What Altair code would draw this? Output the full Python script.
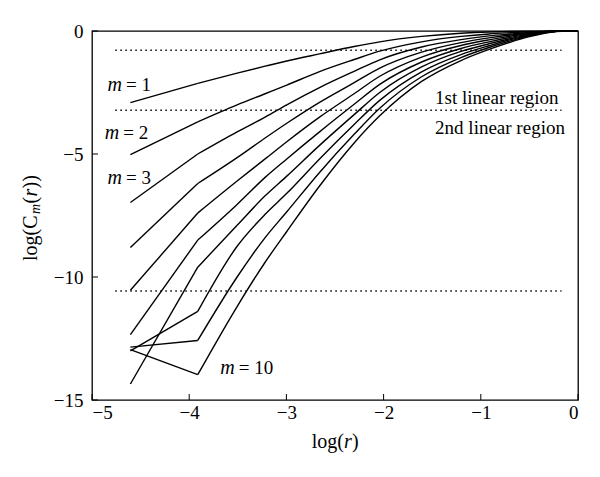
import altair as alt
import pandas as pd

# log(r) sample positions (r = 0.01 ... 1.0)
log_r = [-4.605, -3.912, -3.507, -3.219, -2.996, -2.659, -2.303, -2.040, -1.609,
         -1.204, -0.916, -0.693, -0.511, -0.357, -0.223, -0.105, 0.0]

m1 = [-2.91, -2.13, -1.71, -1.43, -1.22, -0.93, -0.63, -0.44, -0.22, -0.09, -0.04, -0.02, -0.01, -0.004, 0.0, 0.0, 0.0]
m2 = [-5.03, -3.69, -3.00, -2.55, -2.20, -1.65, -1.16, -0.82, -0.44, -0.22, -0.12, -0.07, -0.035, -0.015, -0.002, 0.0, 0.0]
m3 = [-6.97, -5.00, -4.10, -3.50, -3.00, -2.30, -1.64, -1.17, -0.65, -0.35, -0.20, -0.12, -0.06, -0.025, -0.004, 0.0, 0.0]
m4 = [-8.80, -6.20, -5.15, -4.35, -3.75, -2.90, -2.10, -1.51, -0.86, -0.47, -0.28, -0.16, -0.085, -0.035, -0.006, 0.0, 0.0]
m5 = [-10.54, -7.40, -6.10, -5.20, -4.50, -3.50, -2.55, -1.84, -1.06, -0.59, -0.36, -0.21, -0.11, -0.045, -0.008, 0.0, 0.0]
m6 = [-12.34, -8.50, -7.05, -5.95, -5.20, -4.10, -2.98, -2.17, -1.26, -0.71, -0.44, -0.26, -0.135, -0.055, -0.010, 0.0, 0.0]
m7 = [-14.35, -9.60, -7.90, -6.70, -5.90, -4.65, -3.40, -2.50, -1.46, -0.83, -0.52, -0.31, -0.16, -0.065, -0.012, 0.0, 0.0]
m8 = [-13.00, -11.40, -8.75, -7.45, -6.60, -5.20, -3.80, -2.82, -1.66, -0.96, -0.60, -0.35, -0.185, -0.075, -0.014, 0.0, 0.0]
m9 = [-12.85, -12.58, -10.00, -8.40, -7.35, -5.75, -4.20, -3.14, -1.86, -1.08, -0.67, -0.40, -0.21, -0.088, -0.017, 0.0, 0.0]
m10 = [-12.95, -13.97, -11.20, -9.40, -8.15, -6.30, -4.55, -3.45, -2.05, -1.20, -0.75, -0.45, -0.24, -0.10, -0.020, 0.0, 0.0]

series = [m1, m2, m3, m4, m5, m6, m7, m8, m9, m10]

# dotted reference levels
dot_levels = [-0.78, -3.22, -10.57]
dot_start = -4.76
dot_end = -0.17

# axis ticks
x_ticks = [-5, -4, -3, -2, -1, 0]
y_ticks = [0, -5, -10, -15]

# curve labels
lab_x = [-4.67, -4.70, -4.67, -3.51]
lab_y = [-2.2, -4.15, -5.98, -13.7]
lab_rest = ["= 1", "= 2", "= 3", "= 10"]

region_text = ["1st linear region", "2nd linear region"]
region_x = [-1.47, -1.47]
region_y = [-2.72, -3.94]

FONT = "Liberation Serif"
FS = 19
TFS = 19
TIT = 20

rows_a, rows_b = [], []
for i, s in enumerate(series):
    for k, (u, v) in enumerate(zip(log_r, s)):
        if k <= 1:
            rows_a.append({"u": u, "v": v, "m": i + 1})
        if k >= 1:
            rows_b.append({"u": u, "v": v, "m": i + 1})
df_a = pd.DataFrame(rows_a)
df_b = pd.DataFrame(rows_b)

xs = alt.Scale(domain=[-5, 0], nice=False, zero=False)
ys = alt.Scale(domain=[-15, 0], nice=False, zero=False)

x_axis = alt.Axis(values=x_ticks, ticks=False, domain=False, grid=False,
                  labelFont=FONT, labelFontSize=FS, labelColor="black", labelPadding=3)
y_axis = alt.Axis(values=y_ticks, ticks=False, domain=False, grid=False,
                  labelFont=FONT, labelFontSize=FS, labelColor="black", labelPadding=9)


def X(f):
    return alt.X(f, scale=xs, axis=x_axis, title=None)


def Y(f):
    return alt.Y(f, scale=ys, axis=y_axis, title=None)


lines_a = alt.Chart(df_a).mark_line(color="black", strokeWidth=1.4).encode(
    x=X("u:Q"), y=Y("v:Q"), detail="m:N")
lines_b = alt.Chart(df_b).mark_line(color="black", strokeWidth=1.4, interpolate="monotone").encode(
    x=X("u:Q"), y=Y("v:Q"), detail="m:N")

dots_df = pd.DataFrame({"y": dot_levels, "x1": [dot_start] * 3, "x2": [dot_end] * 3})
dots = alt.Chart(dots_df).mark_rule(color="black", strokeWidth=1.5, strokeDash=[1.5, 3.5]).encode(
    x=X("x1:Q"), x2="x2:Q", y=Y("y:Q"))

xt = alt.Chart(pd.DataFrame({"t": x_ticks})).mark_rule(color="black", strokeWidth=1).encode(
    x=X("t:Q"), y=alt.value(369), y2=alt.value(363))
yt = alt.Chart(pd.DataFrame({"t": y_ticks})).mark_rule(color="black", strokeWidth=1).encode(
    y=Y("t:Q"), x=alt.value(0), x2=alt.value(6))

lab_df = pd.DataFrame({"x": lab_x, "y": lab_y, "m": ["m"] * 4, "rest": lab_rest})
lab_m = alt.Chart(lab_df).mark_text(font=FONT, fontSize=TFS + 1, fontStyle="italic",
                                    align="right", baseline="middle", dx=-2, color="black").encode(
    x=X("x:Q"), y=Y("y:Q"), text="m:N")
lab_r = alt.Chart(lab_df).mark_text(font=FONT, fontSize=TFS, align="left", baseline="middle",
                                    dx=2, color="black").encode(
    x=X("x:Q"), y=Y("y:Q"), text="rest:N")

reg_df = pd.DataFrame({"x": region_x, "y": region_y, "t": region_text})
reg = alt.Chart(reg_df).mark_text(font=FONT, fontSize=TFS, align="left", baseline="middle",
                                  color="black").encode(
    x=X("x:Q"), y=Y("y:Q"), text="t:N")

# axis titles, built from pieces so that r and m can be italic
xt_pieces = [("log(", "normal", "right", 252), ("r", "italic", "left", 252), (")", "normal", "left", 260)]
x_title = []
for txt, sty, al, px in xt_pieces:
    x_title.append(
        alt.Chart(pd.DataFrame({"t": [txt]})).mark_text(
            font=FONT, fontSize=TIT, fontStyle=sty, align=al, baseline="middle", color="black"
        ).encode(text="t:N", x=alt.value(px), y=alt.value(411))
    )

# rotated y title: pieces stacked upward from the bottom
yt_pieces = [("log(C", "normal", TIT, 230, -61),
             ("m", "italic", 14, 183, -56),
             ("(", "normal", TIT, 172.5, -61),
             ("r", "italic", TIT, 165.5, -61),
             ("))", "normal", TIT, 157.5, -61)]
y_title = []
for txt, sty, fs, py, px in yt_pieces:
    y_title.append(
        alt.Chart(pd.DataFrame({"t": [txt]})).mark_text(
            font=FONT, fontSize=fs, fontStyle=sty, align="left", baseline="middle",
            angle=270, color="black"
        ).encode(text="t:N", x=alt.value(px), y=alt.value(py))
    )

chart = alt.layer(lines_a, lines_b, dots, xt, yt, lab_m, lab_r, reg, *x_title, *y_title).properties(
    width=486, height=369,
    background="white",
    autosize=alt.AutoSizeParams(type="none"),
    padding={"left": 84, "top": 23, "right": 14, "bottom": 60},
).configure_view(stroke="black", strokeWidth=1.3)

chart.save("out.html", embed_options={"renderer": "svg", "actions": False})
